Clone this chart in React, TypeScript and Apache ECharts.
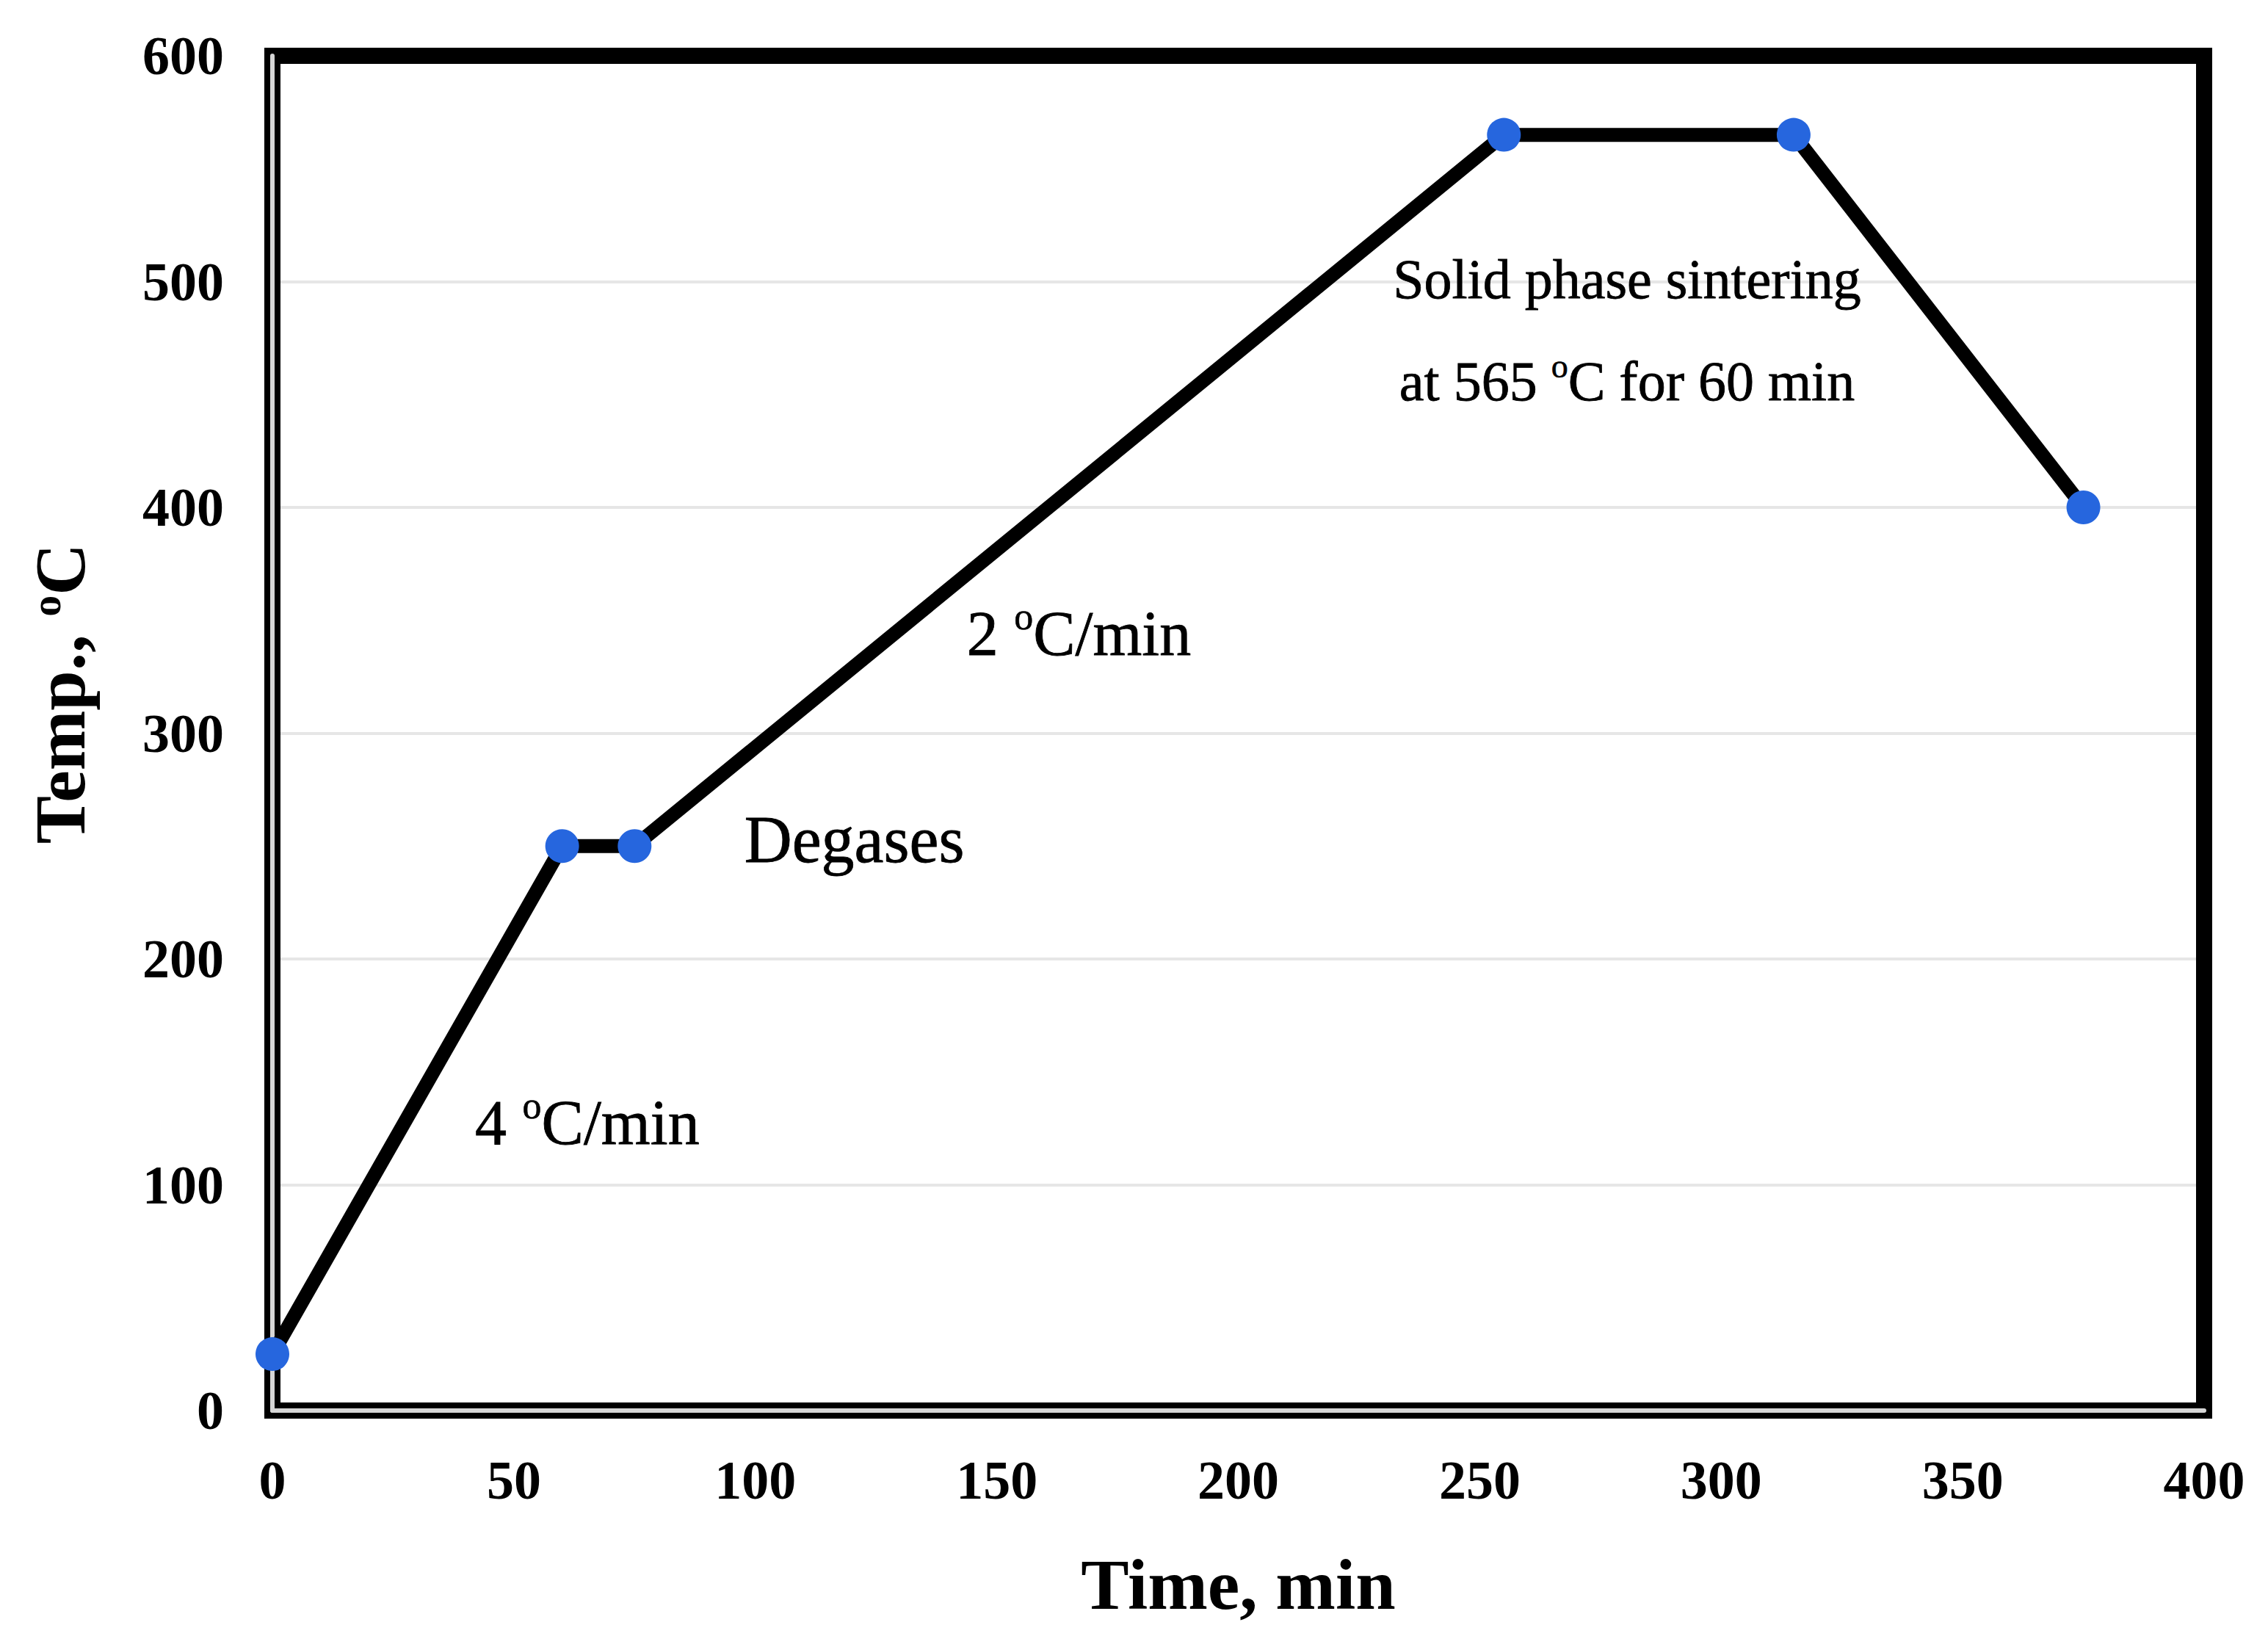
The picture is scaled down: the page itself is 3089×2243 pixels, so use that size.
import React, { useEffect, useRef } from "react";
import * as echarts from "echarts";

const timeMin = [0, 60, 75, 255, 315, 375];
const tempC = [25, 250, 250, 565, 565, 400];

const xTicks = { min: 0, max: 400, interval: 50 };
const yTicks = { min: 0, max: 600, interval: 100 };

const annotationTexts = [
  "Solid phase sintering",
  "at 565 {sup|o}C for 60 min",
  "2 {sup|o}C/min",
  "Degases",
  "4 {sup|o}C/min",
];
const annotationX = [280.5, 280.5, 167, 120.5, 65.2];
const annotationY = [501, 456, 344, 253, 127.5];
const annotationSizes = [76, 76, 86, 90, 86];

const xTitle = "Time, min";
const yTitle = "Temp., {sup|o}C";

const SERIF = "'Liberation Serif', 'Times New Roman', serif";

export default function App() {
  const ref = useRef<HTMLDivElement>(null);
  useEffect(() => {
    if (!ref.current) return;
    const chart = echarts.init(ref.current, null, { renderer: "svg" });
    const lineData = timeMin.map((t, i) => [t, tempC[i]]);
    const annData = annotationTexts.map((txt, i) => ({
      value: [annotationX[i], annotationY[i]],
      label: {
        show: true,
        formatter: txt,
        color: "#000",
        opacity: 1,
        fontFamily: SERIF,
        fontSize: annotationSizes[i],
        lineHeight: annotationSizes[i] * 1.15,
        textBorderColor: "#000",
        textBorderWidth: 0.8,
        rich: {
          sup: {
            fontSize: Math.round(annotationSizes[i] * 0.6),
            fontFamily: SERIF,
            color: "#000",
            textBorderColor: "#000",
            textBorderWidth: 0.6,
            verticalAlign: "top",
          },
        },
      },
    }));
    chart.setOption({
      animation: false,
      backgroundColor: "#fff",
      grid: {
        left: 371,
        top: 76,
        width: 2631,
        height: 1845,
        show: true,
        borderColor: "#000",
        borderWidth: 22,
        backgroundColor: "transparent",
      },
      xAxis: {
        type: "value",
        min: xTicks.min,
        max: xTicks.max,
        interval: xTicks.interval,
        z: 2,
        axisLine: { show: true, lineStyle: { color: "#d6d6d6", width: 6 } },
        axisTick: { show: false },
        splitLine: { show: false },
        axisLabel: {
          color: "#000",
          fontSize: 74,
          fontWeight: "bold",
          fontFamily: SERIF,
          margin: 58,
        },
        name: xTitle,
        nameLocation: "middle",
        nameGap: 188,
        nameTextStyle: {
          color: "#000",
          fontSize: 98,
          fontWeight: "bold",
          fontFamily: SERIF,
        },
      },
      yAxis: [
        {
          type: "value",
          min: yTicks.min,
          max: yTicks.max,
          interval: yTicks.interval,
          z: -1,
          axisLine: { show: false },
          axisTick: { show: false },
          splitLine: {
            show: true,
            showMinLine: false,
            showMaxLine: false,
            lineStyle: { color: "#e6e6e6", width: 4 },
          },
          axisLabel: {
            color: "#000",
            fontSize: 74,
            fontWeight: "bold",
            fontFamily: SERIF,
            margin: 66,
          },
          name: yTitle,
          nameLocation: "middle",
          nameRotate: 90,
          nameGap: 240,
          nameTextStyle: {
            color: "#000",
            fontSize: 98,
            fontWeight: "bold",
            fontFamily: SERIF,
            padding: [0, 0, 0, 108],
            rich: {
              sup: {
                fontSize: 58,
                fontWeight: "bold",
                fontFamily: SERIF,
                color: "#000",
                verticalAlign: "top",
              },
            },
          },
        },
        {
          type: "value",
          min: yTicks.min,
          max: yTicks.max,
          interval: yTicks.interval,
          position: "left",
          z: 2,
          axisLine: { show: true, lineStyle: { color: "#d6d6d6", width: 6 } },
          axisTick: { show: false },
          axisLabel: { show: false },
          splitLine: { show: false },
        },
      ],
      series: [
        {
          type: "line",
          data: lineData,
          symbol: "circle",
          symbolSize: 46,
          itemStyle: { color: "#2666de" },
          lineStyle: { color: "#000", width: 19 },
          z: 3,
        },
        {
          type: "scatter",
          data: annData,
          symbol: "circle",
          symbolSize: 0,
          itemStyle: { color: "#000" },
          label: {
            show: true,
            position: "inside",
            color: "#000",
            fontFamily: SERIF,
            align: "center",
            verticalAlign: "middle",
          },
          silent: true,
          z: 4,
        },
      ],
    });
    return () => chart.dispose();
  }, []);
  return (
    <div
      ref={ref}
      style={{
        position: "fixed",
        left: 0,
        top: 0,
        width: 3089,
        height: 2243,
        background: "#fff",
      }}
    />
  );
}
